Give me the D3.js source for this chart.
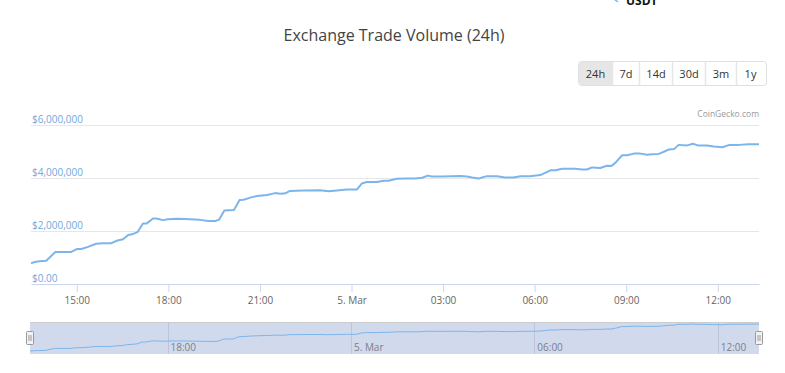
<!DOCTYPE html>
<html>
<head>
<meta charset="utf-8">
<script src="https://cdn.jsdelivr.net/npm/d3@7"></script>
<style>
  body { margin: 0; background: #fff; }
  svg { font-family: "Open Sans", sans-serif; display: block; }
</style>
</head>
<body>
<div id="chart"></div>
<script>
// data (4 -> 5 Mar, USD volume)
var times = ["03-04 13:30","03-04 13:37","03-04 13:47","03-04 14:00","03-04 14:18","03-04 14:49","03-04 15:00","03-04 15:09",
  "03-04 15:22","03-04 15:38","03-04 15:52","03-04 16:08","03-04 16:20","03-04 16:31","03-04 16:41","03-04 16:51",
  "03-04 17:00","03-04 17:10","03-04 17:17","03-04 17:30","03-04 17:36","03-04 17:50","03-04 17:59","03-04 18:19",
  "03-04 18:43","03-04 19:02","03-04 19:19","03-04 19:32","03-04 19:40","03-04 19:50","03-04 19:58","03-04 20:09",
  "03-04 20:20","03-04 20:28","03-04 20:41","03-04 20:54","03-04 21:14","03-04 21:30","03-04 21:40","03-04 21:50",
  "03-04 21:59","03-04 22:26","03-04 22:58","03-04 23:15","03-04 23:31","03-04 23:51","03-05 00:11","03-05 00:20",
  "03-05 00:30","03-05 00:50","03-05 01:03","03-05 01:13","03-05 01:29","03-05 01:46","03-05 02:05","03-05 02:19",
  "03-05 02:30","03-05 02:38","03-05 02:58","03-05 03:17","03-05 03:34","03-05 03:47","03-05 03:57","03-05 04:10",
  "03-05 04:26","03-05 04:46","03-05 05:02","03-05 05:19","03-05 05:32","03-05 05:51","03-05 06:11","03-05 06:31",
  "03-05 06:41","03-05 06:54","03-05 07:20","03-05 07:33","03-05 07:43","03-05 07:53","03-05 08:09","03-05 08:22",
  "03-05 08:31","03-05 08:39","03-05 08:52","03-05 09:02","03-05 09:15","03-05 09:28","03-05 09:41","03-05 09:51",
  "03-05 10:04","03-05 10:14","03-05 10:24","03-05 10:34","03-05 10:43","03-05 11:00","03-05 11:11","03-05 11:21",
  "03-05 11:39","03-05 11:52","03-05 12:09","03-05 12:23","03-05 12:41","03-05 13:01","03-05 13:21"];
var volume = [780000,830000,860000,880000,1210000,1210000,1320000,1320000,
  1400000,1520000,1540000,1540000,1640000,1690000,1850000,1890000,
  1970000,2280000,2280000,2470000,2470000,2410000,2440000,2460000,
  2440000,2420000,2380000,2380000,2430000,2770000,2780000,2790000,
  3170000,3180000,3260000,3320000,3360000,3430000,3410000,3420000,
  3510000,3530000,3540000,3500000,3530000,3570000,3570000,3790000,
  3850000,3850000,3900000,3900000,3970000,3980000,3980000,4010000,
  4090000,4060000,4060000,4070000,4080000,4060000,4020000,3980000,
  4070000,4070000,4020000,4020000,4070000,4070000,4110000,4290000,
  4290000,4350000,4350000,4320000,4320000,4400000,4380000,4460000,
  4450000,4580000,4860000,4860000,4920000,4920000,4880000,4900000,
  4910000,4990000,5080000,5090000,5250000,5230000,5290000,5230000,
  5230000,5190000,5160000,5250000,5250000,5270000,5270000];
var yTicks = [0, 2000000, 4000000, 6000000];
var xTickLabels = ["03-04 15:00","03-04 18:00","03-04 21:00","03-05 00:00","03-05 03:00","03-05 06:00","03-05 09:00","03-05 12:00"];
var navTickLabels = ["03-04 18:00","03-05 00:00","03-05 06:00","03-05 12:00"];
var ranges = ["24h","7d","14d","30d","3m","1y"];
var rangeWidths = [34, 27, 33, 33, 31, 28];

var parse = d3.timeParse("%m-%d %H:%M");
var data = times.map(function(t, i) { return {date: parse(t), value: volume[i]}; });

var W = 785, H = 373;
var svg = d3.select("#chart").append("svg")
    .attr("width", W)
    .attr("height", H);

var lineColor = "#7cb5ec";

// legend item cut at the top
svg.append("path")
  .attr("d", "M614,-1 L618,2")
  .attr("stroke", lineColor).attr("stroke-width", 1.5).attr("fill", "none");
svg.append("text")
  .attr("x", 626).attr("y", 5)
  .style("font-size", "12px").style("font-weight", "bold").attr("fill", "#111")
  .text("USDT");

// title
svg.append("text")
  .attr("x", 394).attr("y", 41)
  .attr("text-anchor", "middle")
  .style("font-size", "16px")
  .attr("fill", "#444")
  .text("Exchange Trade Volume (24h)");

// range buttons
var bx = 578.5;
var btn = svg.append("g");
btn.append("rect")
  .attr("x", 578.5).attr("y", 61.5)
  .attr("width", 188).attr("height", 24)
  .attr("rx", 3).attr("fill", "#fff").attr("stroke", "#e0e0e0");
ranges.forEach(function(r, i) {
  var w = rangeWidths[i];
  if (i == 0) {
    btn.append("rect").attr("x", bx + 0.5).attr("y", 62).attr("width", w - 0.5).attr("height", 23)
      .attr("rx", 2).attr("fill", "#e6e6e6");
  }
  if (i > 0) {
    btn.append("line").attr("x1", bx).attr("x2", bx).attr("y1", 62).attr("y2", 85)
      .attr("stroke", "#e6e6e6").attr("stroke-width", 1.5);
  }
  btn.append("text")
    .attr("x", bx + w / 2).attr("y", 77.5)
    .attr("text-anchor", "middle")
    .style("font-size", "11px").attr("fill", "#333")
    .text(r);
  bx += w;
});

// credit
svg.append("text")
  .attr("x", 759).attr("y", 117)
  .attr("text-anchor", "end")
  .style("font-size", "8.5px").attr("fill", "#999")
  .text("CoinGecko.com");

// scales
var x = d3.scaleTime()
  .domain(d3.extent(data, function(d) { return d.date; }))
  .range([31, 759]);
var y = d3.scaleLinear()
  .domain([0, 6000000])
  .range([284, 125]);

// grid lines
svg.append("g").selectAll("line")
  .data(yTicks.slice(1))
  .enter().append("line")
    .attr("x1", 31).attr("x2", 759)
    .attr("y1", function(d) { return Math.round(y(d)) + 0.5; })
    .attr("y2", function(d) { return Math.round(y(d)) + 0.5; })
    .attr("stroke", "#e6e6e6");

// y labels, sit on top of the grid line
svg.append("g").selectAll("text")
  .data(yTicks)
  .enter().append("text")
    .attr("x", 32)
    .attr("y", function(d) { return y(d) - 2; })
    .style("font-size", "10px")
    .attr("fill", "#6fa8dc")
    .text(function(d) { return d == 0 ? "$0.00" : "$" + d3.format(",")(d); });

// x axis
var fmt = function(d) {
  return d.getHours() == 0 ? d3.timeFormat("%-d. %b")(d) : d3.timeFormat("%H:%M")(d);
};
var xAxis = svg.append("g")
  .attr("transform", "translate(0,284)")
  .call(d3.axisBottom(x)
    .tickValues(xTickLabels.map(parse))
    .tickFormat(fmt)
    .tickSizeInner(8).tickSizeOuter(0).tickPadding(5));
xAxis.select(".domain").attr("stroke", "#ccd6eb");
xAxis.selectAll(".tick line").attr("stroke", "#ccd6eb");
xAxis.selectAll(".tick text")
  .style("font-size", "10px").style("font-family", "Open Sans, sans-serif").attr("fill", "#666");

// main line
svg.append("path")
  .datum(data)
  .attr("fill", "none")
  .attr("stroke", lineColor)
  .attr("stroke-width", 2)
  .attr("stroke-linejoin", "round")
  .attr("d", d3.line()
    .x(function(d) { return x(d.date); })
    .y(function(d) { return y(d.value); }));

// navigator
var xn = d3.scaleTime()
  .domain(x.domain())
  .range([30, 759]);
var yn = d3.scaleLinear()
  .domain(d3.extent(volume))
  .range([351, 324]);

var nav = svg.append("g");
nav.append("rect")
  .attr("x", 30).attr("y", 322)
  .attr("width", 729).attr("height", 32)
  .attr("fill", "rgba(102,133,194,0.3)");
nav.append("line")
  .attr("x1", 30).attr("x2", 759).attr("y1", 322.5).attr("y2", 322.5)
  .attr("stroke", "#cccccc");

nav.selectAll(".ng")
  .data(navTickLabels.map(parse))
  .enter().append("line")
    .attr("x1", function(d) { return Math.round(xn(d)) + 0.5; })
    .attr("x2", function(d) { return Math.round(xn(d)) + 0.5; })
    .attr("y1", 322).attr("y2", 354)
    .attr("stroke", "#bcc6da");
nav.selectAll(".nt")
  .data(navTickLabels.map(parse))
  .enter().append("text")
    .attr("x", function(d) { return xn(d) + 3; })
    .attr("y", 351)
    .style("font-size", "10px")
    .attr("fill", "#7a7f8c")
    .text(fmt);

nav.append("path")
  .datum(data)
  .attr("fill", "none")
  .attr("stroke", lineColor)
  .attr("stroke-width", 1)
  .attr("d", d3.line()
    .x(function(d) { return xn(d.date); })
    .y(function(d) { return yn(d.value); }));

// handles
[30, 759].forEach(function(hx) {
  var h = nav.append("g").attr("transform", "translate(" + (hx - 3.5) + ",331.5)");
  h.append("rect").attr("width", 7).attr("height", 13).attr("rx", 1)
    .attr("fill", "#f2f2f2").attr("stroke", "#999");
  h.append("line").attr("x1", 2.5).attr("x2", 2.5).attr("y1", 3.5).attr("y2", 9.5).attr("stroke", "#999");
  h.append("line").attr("x1", 4.5).attr("x2", 4.5).attr("y1", 3.5).attr("y2", 9.5).attr("stroke", "#999");
});
</script>
</body>
</html>
